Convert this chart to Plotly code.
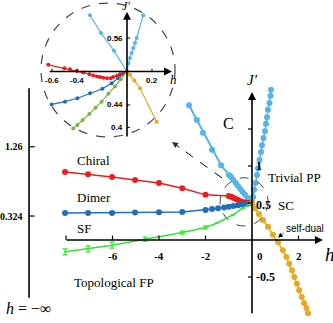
import plotly.graph_objects as go

# ---- main panel: phase boundaries, (h, J') ----
c_h = [-2.71, -2.37, -2.11, -1.72, -1.33, -0.99, -0.9, -0.8, -0.7, -0.6, -0.5, -0.4, -0.3, -0.2, -0.1, 0]
c_j = [1.82, 1.62, 1.45, 1.22, 1.01, 0.88, 0.85, 0.81, 0.77, 0.73, 0.69, 0.65, 0.61, 0.57, 0.535, 0.5]

pp_h = [0, 0.043, 0.086, 0.15, 0.215, 0.258, 0.323, 0.387, 0.43, 0.495, 0.559, 0.602, 0.645, 0.688, 0.753, 0.796, 0.817]
pp_j = [0.5, 0.58, 0.68, 0.77, 0.88, 0.97, 1.08, 1.19, 1.28, 1.38, 1.47, 1.57, 1.66, 1.76, 1.85, 1.95, 2.03]

chiral_h = [-8.04, -7.05, -6.02, -5.03, -4.0, -3.0, -2.0, -1.0, -0.9, -0.8, -0.7, -0.6, -0.5, -0.4, -0.3, -0.2, -0.1, 0]
chiral_j = [0.92, 0.89, 0.85, 0.81, 0.77, 0.70, 0.61, 0.595, 0.585, 0.57, 0.555, 0.54, 0.525, 0.515, 0.505, 0.5, 0.5, 0.5]

dimer_h = [-8.04, -7.05, -6.02, -5.03, -4.0, -3.0, -2.0, -1.72, -1.46, -1.2, -1.0, -0.8, -0.6, -0.4, -0.2, 0]
dimer_j = [0.365, 0.365, 0.365, 0.37, 0.375, 0.38, 0.405, 0.42, 0.43, 0.44, 0.45, 0.46, 0.47, 0.48, 0.49, 0.5]

sf_h = [-8.04, -7.05, -6.02, -4.6, -3.0, -2.0, -1.5, -0.82, -0.4, 0]
sf_j = [-0.16, -0.12, -0.07, 0.01, 0.10, 0.17, 0.23, 0.34, 0.43, 0.5]
sf_err = [0.04, 0.04, 0.04, 0.03, 0.02, 0.02, 0, 0, 0, 0]

sd_h = [0, 0.13, 0.30, 0.47, 0.69, 0.90, 1.12, 1.33, 1.48, 1.60, 1.72, 1.82, 1.93, 2.03, 2.14, 2.24, 2.34, 2.41]
sd_j = [0.5, 0.43, 0.35, 0.27, 0.18, 0.07, -0.03, -0.14, -0.23, -0.32, -0.41, -0.50, -0.59, -0.68, -0.77, -0.85, -0.92, -0.99]

h_ticks = [-6, -4, -2, 0, 2]
j_ticks = [1, 0.5, -0.5]
inf_ticks = [1.26, 0.324]

# ---- inset (zoom around h=0, J'=0.5) ----
ic_h = [0, -0.104, -0.208, -0.296]
ic_j = [0.5, 0.537, 0.569, 0.601]
ipp_h = [0, 0.011, 0.024, 0.037, 0.050, 0.064, 0.077, 0.130]
ipp_j = [0.5, 0.515, 0.524, 0.533, 0.542, 0.551, 0.560, 0.601]
ich_h = [-0.63, -0.5, -0.456, -0.4, -0.35, -0.3, -0.27, -0.24, -0.216, -0.19, -0.16, -0.13, -0.11, -0.08, -0.056, -0.03, 0]
ich_j = [0.512, 0.506, 0.504, 0.501, 0.498, 0.495, 0.493, 0.491, 0.49, 0.489, 0.488, 0.488, 0.49, 0.492, 0.495, 0.497, 0.5]
idm_h = [-0.603, -0.496, -0.397, -0.296, -0.197, -0.123, -0.069, 0]
idm_j = [0.441, 0.446, 0.452, 0.461, 0.469, 0.479, 0.488, 0.5]
isf_h = [-0.43, -0.397, -0.355, -0.301, -0.251, -0.203, -0.149, -0.096, -0.05, 0]
isf_j = [0.398, 0.404, 0.413, 0.424, 0.435, 0.446, 0.46, 0.473, 0.486, 0.5]
isd_h = [0, 0.024, 0.059, 0.104, 0.237]
isd_j = [0.5, 0.494, 0.484, 0.47, 0.41]
i_hticks = [-0.6, -0.4, 0.2]
i_jticks = [0.56, 0.44, 0.4]

LBLUE, RED, DBLUE, GREEN, OLIVE, ORANGE = "#56b4e9", "#ee1c1c", "#1f6fbf", "#2eea2e", "#7db544", "#e8a820"
SERIF = "Liberation Serif"

fig = go.Figure()


def curve(x, y, color, size, xa="x", ya="y", width=1.5, err=None):
    fig.add_trace(go.Scatter(x=x, y=y, xaxis=xa, yaxis=ya, mode="lines+markers",
                             line=dict(color=color, width=width),
                             marker=dict(color=color, size=size),
                             error_y=dict(type="data", array=err, color=color, width=2.5, thickness=1.2,
                                          visible=err is not None)))


curve(c_h, c_j, LBLUE, 6, width=2)
curve(pp_h, pp_j, LBLUE, 6)
curve(chiral_h, chiral_j, RED, 6)
curve(dimer_h, dimer_j, DBLUE, 6)
curve(sf_h, sf_j, GREEN, 2, err=sf_err)
curve(sd_h, sd_j, ORANGE, 6)

curve(ic_h, ic_j, LBLUE, 4, "x2", "y2", 1.2)
curve(ipp_h, ipp_j, LBLUE, 4, "x2", "y2", 1.2)
curve(ich_h, ich_j, RED, 4, "x2", "y2", 1.2)
curve(idm_h, idm_j, DBLUE, 4, "x2", "y2", 1.2)
curve(isf_h, isf_j, OLIVE, 4, "x2", "y2", 1.2)
curve(isd_h, isd_j, ORANGE, 4, "x2", "y2", 1.2)


def txt(x, y, s, size, xref="x", yref="y", font=SERIF, color="black", **kw):
    fig.add_annotation(x=x, y=y, xref=xref, yref=yref, text=s, showarrow=False,
                       font=dict(family=font, size=size, color=color), **kw)


def arrow(x0, y0, x1, y1, xref="x", yref="y", width=1.5, head=2, size=1.0, color="black"):
    fig.add_annotation(x=x1, y=y1, ax=x0, ay=y0, xref=xref, yref=yref, axref=xref, ayref=yref,
                       showarrow=True, arrowhead=head, arrowsize=size, arrowwidth=width,
                       arrowcolor=color, text="")


def seg(x0, y0, x1, y1, xref="x", yref="y", width=1, dash="solid"):
    fig.add_shape(type="line", x0=x0, y0=y0, x1=x1, y1=y1, xref=xref, yref=yref,
                  line=dict(color="black", width=width, dash=dash))


# main axes
arrow(-8.04, 0, 3.05, 0, width=1.6)
arrow(0, -1.01, 0, 2.0, width=1.6)
for t in [-8] + h_ticks:
    if t != 0:
        seg(t, 0, t, 0.06, width=1.2)
for t in [1.5] + j_ticks:
    seg(-0.17, t, 0, t, width=1.2)
for t in h_ticks:
    txt(t, 0, "<b>%g</b>" % t if t >= 0 else "<b>-%g</b>" % -t, 11, yshift=-16,
        xshift=8 if t == 0 else 0)
for t in j_ticks:
    txt(0, t, "<b>%g</b>" % t if t > 0 else "<b>-%g</b>" % -t, 12, xanchor="left", xshift=2,
        yshift=-2 if t == 0.5 else 0)
txt(3.15, 0, "<i>h</i>", 19, xanchor="left", yshift=-14, xshift=-2)
txt(0, 2.0, "<i>J′</i>", 15, yshift=12)

# h = -inf axis
seg(-9.59, -0.78, -9.59, 2.05, width=1.6)
for t in inf_ticks:
    seg(-9.59, t, -9.35, t, width=1.2)
    txt(-9.59, t, "<b>%g</b>" % t, 10, xanchor="right", xshift=-4)
txt(-9.63, -0.92, "<i>h</i> = −∞", 16)

# zoom circle + arrow to the inset
fig.add_shape(type="circle", xref="x", yref="y", x0=-1.37, x1=0.69, y0=0.19, y1=0.84,
              line=dict(color="#444", width=1, dash="dash"))
seg(-1.29, 0.838, -3.2, 1.27, width=1, dash="dash")
arrow(-3.05, 1.237, -3.44, 1.324, width=1, head=2, size=1.2, color="#333")

# phase labels
txt(-1.03, 1.58, "C", 16)
txt(1.81, 0.85, "Trivial PP", 13)
txt(1.46, 0.47, "SC", 13)
txt(-6.8, 1.08, "Chiral", 13)
txt(-6.8, 0.58, "Dimer", 13)
txt(-7.23, 0.16, "SF", 13)
txt(-5.94, -0.57, "Topological FP", 13)
txt(2.28, 0.16, "self-dual", 10, font="Liberation Sans")
arrow(1.42, 0.11, 1.12, 0.03, width=0.8, head=2, size=1.2)

# inset axes
arrow(-0.63, 0.5, 0.36, 0.5, "x2", "y2", width=1.6, head=2, size=1.0)
arrow(0, 0.381, 0, 0.607, "x2", "y2", width=1.6, head=2, size=1.0)
for t in i_hticks:
    seg(t, 0.5, t, 0.505, "x2", "y2", width=1)
    txt(t, 0.5, "<b>%g</b>" % t if t > 0 else "<b>-%g</b>" % -t, 8, "x2", "y2",
        font="Liberation Sans", yshift=-9)
for t in i_jticks:
    seg(0, t, 0.025, t, "x2", "y2", width=1)
    txt(0, t, "<b>%g</b>" % t, 8, "x2", "y2", font="Liberation Sans", xanchor="right", xshift=-2)
txt(0.33, 0.5, "<i>h</i>", 13, "x2", "y2", yshift=-8, xanchor="left")
txt(-0.01, 0.607, "<i>J′</i>", 12, "x2", "y2", yshift=6)
fig.add_shape(type="circle", xref="x2", yref="y2", x0=-0.688, x1=0.384, y0=0.3827, y1=0.6227,
              line=dict(color="#444", width=1.2, dash="dash"))

fig.update_layout(
    width=333, height=323, autosize=False, showlegend=False,
    margin=dict(l=0, r=0, t=0, b=0),
    paper_bgcolor="white", plot_bgcolor="white",
    xaxis=dict(range=[-10.839, 3.484], visible=False, domain=[0, 1]),
    yaxis=dict(range=[-1.1216, 3.2432], visible=False, domain=[0, 1]),
    xaxis2=dict(range=[-0.696, 0.424], visible=False, domain=[40 / 333, 180 / 333], anchor="y2"),
    yaxis2=dict(range=[0.37724, 0.62814], visible=False, domain=[1 - 140 / 323, 1], anchor="x2"),
)

# page body has a default 8px margin; drop it so the figure fills the window
fig.write_html("out.html", config={"displayModeBar": False},
               post_script="document.body.style.margin='0';")
